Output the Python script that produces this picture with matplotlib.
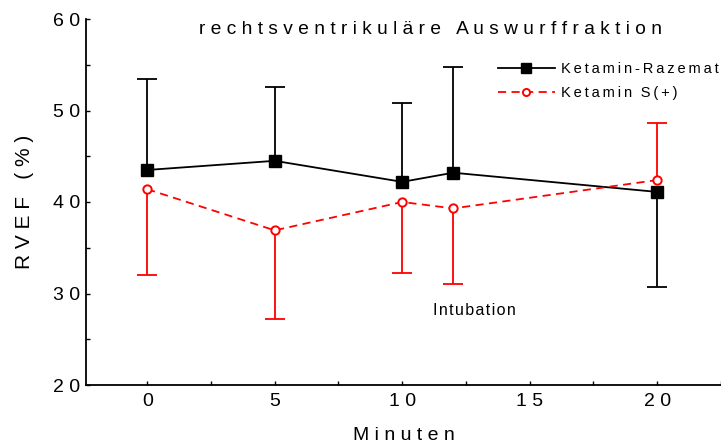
import matplotlib
matplotlib.use("Agg")
import matplotlib.pyplot as plt
import numpy as np
from matplotlib.ticker import MultipleLocator, FixedFormatter, FixedLocator

plt.rcParams['font.family'] = ['Liberation Sans', 'DejaVu Sans']

# Messzeitpunkte (Minuten) und RVEF-Mittelwerte mit einseitigen Standardabweichungen
minuten = np.array([0, 5, 10, 12, 20])

razemat = np.array([43.5, 44.5, 42.2, 43.2, 41.1])
razemat_sd = np.array([9.9, 8.1, 8.6, 11.6, -10.4])   # Vorzeichen: Richtung des Balkens

s_plus = np.array([41.4, 36.9, 40.0, 39.3, 42.4])
s_plus_sd = np.array([-9.4, -9.7, -7.8, -8.3, 6.2])

x_ticks = [0, 5, 10, 15, 20]
y_ticks = [20, 30, 40, 50, 60]


def gesperrt(text, sep=' '):
    # letter-spaced text, wider gap between words
    return sep.join(text).replace(sep + ' ' + sep, sep * 3)


def einseitige_sd(ax, x, y, sd, farbe):
    spitze = y + sd
    ax.vlines(x, y, spitze, color=farbe, lw=1.3, zorder=2)
    ax.plot(x, spitze, ls='none', marker='_', ms=15, mew=1.3, color=farbe, zorder=2)


fig = plt.figure(figsize=(7.21, 4.45), dpi=100)
ax = fig.add_axes([86 / 721, 1 - 385 / 445, (721 - 86) / 721, 366 / 445])

einseitige_sd(ax, minuten, razemat, razemat_sd, 'black')
einseitige_sd(ax, minuten, s_plus, s_plus_sd, '#ff0000')

ax.plot(minuten, razemat, color='black', lw=1.3, marker='s', ms=8,
        mfc='black', mec='black', zorder=3,
        label=gesperrt('Ketamin-Razemat', '\u2009'))
ax.plot(minuten, s_plus, color='#ff0000', lw=1.3, ls=(0, (4.5, 3)),
        marker='o', ms=6, mfc='white', mec='#ff0000', mew=1.4, zorder=4,
        label=gesperrt('Ketamin S(+)', '\u2009'))

ax.set_xlim(-2.4, 22.5)
ax.set_ylim(20, 60)

ax.spines['top'].set_visible(False)
ax.spines['right'].set_visible(False)
ax.spines['left'].set_linewidth(1.3)
ax.spines['bottom'].set_linewidth(1.3)

ax.xaxis.set_major_locator(FixedLocator(x_ticks))
ax.xaxis.set_major_formatter(FixedFormatter([gesperrt(str(t)) for t in x_ticks]))
ax.xaxis.set_minor_locator(MultipleLocator(2.5))
ax.yaxis.set_major_locator(FixedLocator(y_ticks))
ax.yaxis.set_major_formatter(FixedFormatter([gesperrt(str(t)) for t in y_ticks]))
ax.yaxis.set_minor_locator(MultipleLocator(5))
ax.tick_params(which='both', direction='in', length=3, width=1, labelsize=14)
ax.tick_params(axis='x', pad=6)
ax.tick_params(axis='y', pad=4)

ax.set_xlabel(gesperrt('Minuten'), fontsize=14, labelpad=12)
ax.set_ylabel(gesperrt('RVEF (%)'), fontsize=15, labelpad=14)

fig.text(431 / 721, 1 - 30 / 445, gesperrt('rechtsventrikuläre Auswurffraktion'),
         ha='center', va='center', fontsize=13.8)
ax.text(11.2, 28.1, gesperrt('Intubation', '\u200a'), fontsize=11.5, va='center')

leg = ax.legend(loc='upper left', bbox_to_anchor=(498 / 721, 1 - 62 / 445),
                bbox_transform=fig.transFigure, frameon=False, fontsize=10.5,
                handlelength=3.9, handletextpad=0.4, labelspacing=0.7,
                borderpad=0, borderaxespad=0, markerscale=0.85)

fig.savefig('out.png', dpi=100)
